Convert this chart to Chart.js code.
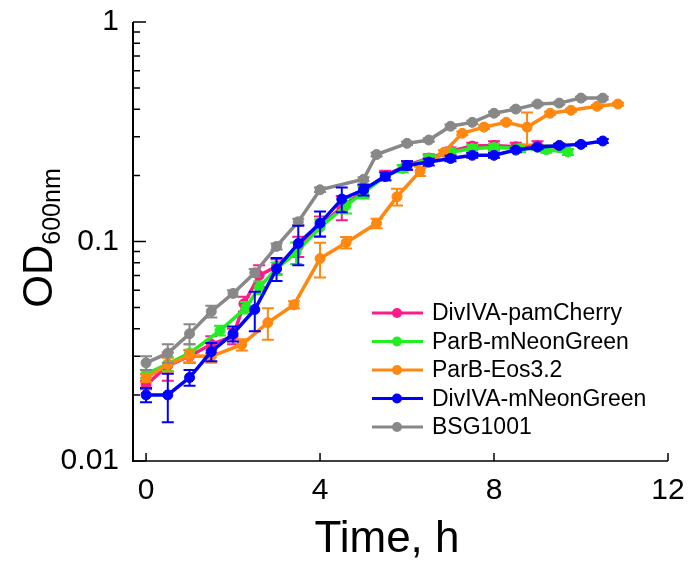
<!DOCTYPE html>
<html>
<head>
<meta charset="utf-8">
<script src="https://cdn.jsdelivr.net/npm/chart.js@4/dist/chart.umd.min.js"></script>
<style>
  body { margin: 0; background: #fff; }
</style>
</head>
<body>
<canvas id="growthChart" width="690" height="561"></canvas>
<script>
// tick labels
const xTicks = [0, 4, 8, 12]
const yTicks = [0.01, 0.1, 1]

// DivIVA-pamCherry
const pinkTime = [0, 0.5, 1, 1.5, 2, 2.25, 2.6, 3, 3.5, 4, 4.5, 5, 5.5, 6, 6.5, 7, 7.5, 8, 8.5, 9, 9.5]
const pinkOD = [0.0222, 0.0272, 0.030, 0.034, 0.037, 0.052, 0.070, 0.077, 0.095, 0.118, 0.143, 0.170, 0.200, 0.222, 0.240, 0.258, 0.272, 0.274, 0.270, 0.274, 0.269]
const pinkErr = [0.001, 0.004, 0.002, 0.003, 0.003, 0.004, 0.008, 0.006, 0.010, 0.012, 0.018, 0.010, 0.010, 0.010, 0.010, 0.010, 0.010, 0.012, 0.012, 0.012, 0.010]

// ParB-mNeonGreen
const greenTime = [0, 0.5, 1, 1.7, 2.3, 2.6, 3, 3.45, 4, 4.6, 5, 5.5, 5.9, 6.5, 7, 7.5, 8, 8.6, 9.2, 9.7]
const greenOD = [0.0249, 0.0277, 0.031, 0.0393, 0.050, 0.0617, 0.0753, 0.089, 0.116, 0.146, 0.167, 0.198, 0.215, 0.239, 0.255, 0.265, 0.268, 0.266, 0.262, 0.256]
const greenErr = [0.001, 0.002, 0.003, 0.002, 0.003, 0.004, 0.005, 0.010, 0.010, 0.012, 0.010, 0.008, 0.008, 0.008, 0.010, 0.010, 0.010, 0.010, 0.008, 0.008]

// ParB-Eos3.2
const orangeTime = [0, 0.5, 1, 1.5, 2.2, 2.8, 3.4, 4, 4.6, 5.3, 5.77, 6.3, 6.85, 7.27, 7.77, 8.28, 8.76, 9.29, 9.77, 10.37, 10.85]
const orangeOD = [0.0239, 0.0275, 0.0301, 0.030, 0.0339, 0.0427, 0.0515, 0.0836, 0.0988, 0.121, 0.160, 0.209, 0.255, 0.311, 0.332, 0.349, 0.332, 0.384, 0.396, 0.413, 0.423]
const orangeErr = [0.001, 0.002, 0.002, 0.002, 0.002, 0.007, 0.002, 0.015, 0.006, 0.006, 0.014, 0.010, 0.006, 0.006, 0.006, 0.006, 0.055, 0.006, 0.006, 0.006, 0.006]

// DivIVA-mNeonGreen
const blueTime = [0, 0.5, 1, 1.5, 2, 2.5, 3, 3.5, 4, 4.5, 5, 5.5, 6, 6.5, 7, 7.5, 8, 8.5, 9, 9.5, 10, 10.5]
const blueOD = [0.020, 0.020, 0.024, 0.0315, 0.038, 0.049, 0.075, 0.098, 0.121, 0.156, 0.172, 0.198, 0.222, 0.230, 0.239, 0.247, 0.247, 0.261, 0.269, 0.274, 0.277, 0.287]
const blueErr = [0.0015, 0.005, 0.002, 0.003, 0.003, 0.010, 0.009, 0.020, 0.016, 0.020, 0.010, 0.008, 0.010, 0.008, 0.007, 0.006, 0.006, 0.005, 0.005, 0.005, 0.005, 0.006]

// BSG1001
const grayTime = [0, 0.5, 1, 1.5, 2, 2.5, 3, 3.5, 4, 5, 5.3, 6, 6.5, 7, 7.5, 8, 8.5, 9, 9.5, 10, 10.5]
const grayOD = [0.028, 0.031, 0.038, 0.048, 0.058, 0.072, 0.095, 0.123, 0.172, 0.192, 0.249, 0.280, 0.290, 0.335, 0.349, 0.384, 0.401, 0.423, 0.427, 0.450, 0.450]
const grayErr = [0.002, 0.003, 0.004, 0.003, 0.002, 0.003, 0.003, 0.004, 0.004, 0.004, 0.005, 0.005, 0.005, 0.006, 0.006, 0.006, 0.006, 0.006, 0.006, 0.006, 0.006]

const FONT = '"Liberation Sans", Arial, sans-serif'

const makeSeries = (label, color, times, values, errors, order) => ({
  label: label,
  data: times.map((t, i) => ({ x: t, y: values[i] })),
  errors: errors,
  borderColor: color,
  backgroundColor: color,
  pointBackgroundColor: color,
  pointBorderColor: color,
  borderWidth: 3.5,
  pointRadius: 5,
  pointBorderWidth: 1,
  tension: 0,
  order: order
})

const series = [
  makeSeries('DivIVA-pamCherry', '#ff1a8c', pinkTime, pinkOD, pinkErr, 5),
  makeSeries('ParB-mNeonGreen', '#22ee22', greenTime, greenOD, greenErr, 4),
  makeSeries('ParB-Eos3.2', '#ff8811', orangeTime, orangeOD, orangeErr, 3),
  makeSeries('DivIVA-mNeonGreen', '#0000ff', blueTime, blueOD, blueErr, 1),
  makeSeries('BSG1001', '#888888', grayTime, grayOD, grayErr, 2)
]

const errorBars = {
  id: 'errorBars',
  afterDatasetDraw(chart, args) {
    const ds = chart.data.datasets[args.index]
    const xs = chart.scales.x
    const ys = chart.scales.y
    const ctx = chart.ctx
    ctx.save()
    ctx.strokeStyle = ds.borderColor
    ctx.lineWidth = 2
    ds.data.forEach((p, i) => {
      const e = ds.errors[i]
      const x = xs.getPixelForValue(p.x)
      const yTop = ys.getPixelForValue(p.y + e)
      const yBot = ys.getPixelForValue(Math.max(p.y - e, 0.001))
      ctx.beginPath()
      ctx.moveTo(x, yTop); ctx.lineTo(x, yBot)
      ctx.moveTo(x - 6, yTop); ctx.lineTo(x + 6, yTop)
      ctx.moveTo(x - 6, yBot); ctx.lineTo(x + 6, yBot)
      ctx.stroke()
    })
    ctx.restore()
  }
}

const axesAndLegend = {
  id: 'axesAndLegend',
  afterDraw(chart) {
    const ctx = chart.ctx
    const { left, right, top, bottom } = chart.chartArea
    const xs = chart.scales.x
    const ys = chart.scales.y
    ctx.save()
    ctx.strokeStyle = '#000'

    // y axis with inward log ticks
    ctx.lineWidth = 2
    ctx.beginPath()
    ctx.moveTo(left, top); ctx.lineTo(left, bottom + 1)
    ctx.stroke()
    ctx.lineWidth = 1.5
    ctx.beginPath()
    ;[0.01, 0.1].forEach(d => {
      for (let m = 1; m <= 9; m++) {
        const y = ys.getPixelForValue(d * m)
        ctx.moveTo(left, y); ctx.lineTo(left + (m === 1 ? 13 : 7), y)
      }
    })
    const y1 = ys.getPixelForValue(1)
    ctx.moveTo(left, y1); ctx.lineTo(left + 13, y1)
    ctx.stroke()

    // x axis
    ctx.beginPath()
    ctx.moveTo(left, bottom); ctx.lineTo(right, bottom)
    xTicks.forEach(v => {
      const x = xs.getPixelForValue(v)
      ctx.moveTo(x, bottom); ctx.lineTo(x, bottom - 8)
    })
    ctx.stroke()

    // axis titles
    ctx.fillStyle = '#000'
    ctx.font = '44px ' + FONT
    ctx.textAlign = 'center'
    ctx.textBaseline = 'middle'
    ctx.fillText('Time, h', 387, 540)

    ctx.save()
    ctx.translate(37, 238)
    ctx.rotate(-Math.PI / 2)
    ctx.textAlign = 'left'
    ctx.textBaseline = 'alphabetic'
    ctx.font = '42px ' + FONT
    const wMain = ctx.measureText('OD').width
    ctx.font = '25px ' + FONT
    const wSub = ctx.measureText('600nm').width
    const start = -(wMain + wSub) / 2
    ctx.font = '42px ' + FONT
    ctx.fillText('OD', start, 15)
    ctx.font = '25px ' + FONT
    ctx.fillText('600nm', start + wMain, 23)
    ctx.restore()

    // legend
    ctx.font = '23px ' + FONT
    ctx.textAlign = 'left'
    ctx.textBaseline = 'middle'
    series.forEach((ds, i) => {
      const y = 313 + i * 28.5
      ctx.strokeStyle = ds.borderColor
      ctx.fillStyle = ds.borderColor
      ctx.lineWidth = 3
      ctx.beginPath()
      ctx.moveTo(372, y); ctx.lineTo(423, y)
      ctx.stroke()
      ctx.beginPath()
      ctx.arc(397, y, 5, 0, Math.PI * 2)
      ctx.fill()
      ctx.fillStyle = '#000'
      ctx.fillText(ds.label, 432, y + 1)
    })
    ctx.restore()
  }
}

const ctx = document.getElementById('growthChart').getContext('2d')
const config = {
  type: 'line',
  data: { datasets: series },
  options: {
    responsive: false,
    animation: false,
    devicePixelRatio: 1,
    layout: { padding: { top: 22, right: 22, left: 0, bottom: 0 } },
    plugins: { legend: { display: false }, tooltip: { enabled: false } },
    scales: {
      x: {
        type: 'linear',
        min: -0.3,
        max: 12,
        afterBuildTicks: s => { s.ticks = xTicks.map(v => ({ value: v })) },
        afterFit: s => {
          s.height = 100
          s.paddingLeft = 0
          s.paddingRight = 0
        },
        grid: { display: false, drawTicks: false },
        border: { display: false },
        ticks: { color: '#000', font: { size: 30, family: FONT }, padding: 12, maxRotation: 0 }
      },
      y: {
        type: 'logarithmic',
        min: 0.01,
        max: 1,
        afterBuildTicks: s => { s.ticks = yTicks.map(v => ({ value: v })) },
        afterFit: s => {
          s.width = 133
          s.paddingTop = 0
          s.paddingBottom = 0
        },
        grid: { display: false, drawTicks: false },
        border: { display: false },
        ticks: { color: '#000', font: { size: 30, family: FONT }, padding: 14, callback: v => String(v) }
      }
    }
  },
  plugins: [errorBars, axesAndLegend]
}
const growthChart = new Chart(ctx, config)
</script>
</body>
</html>
